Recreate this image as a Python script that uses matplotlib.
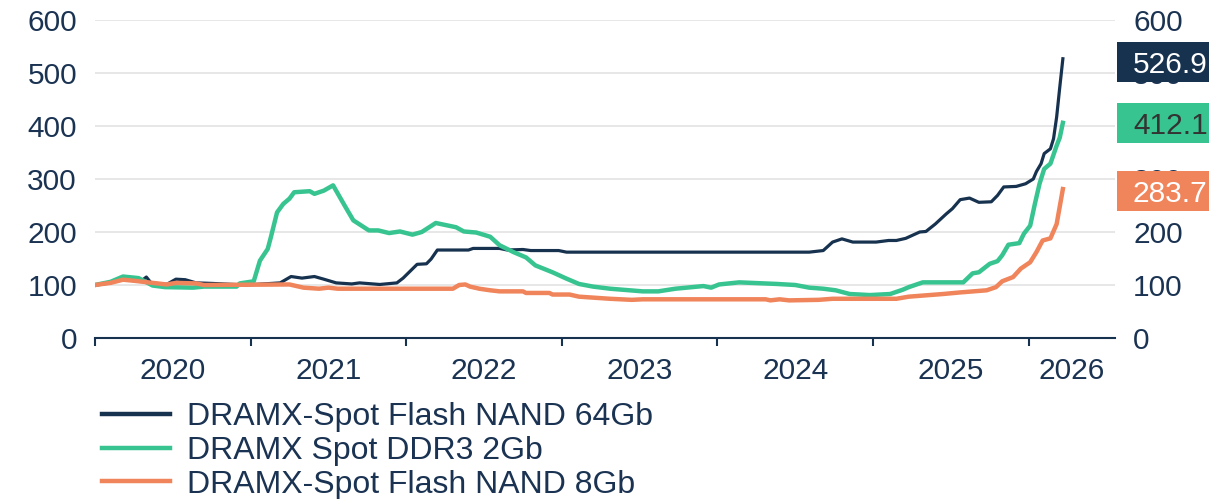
import matplotlib
matplotlib.use("Agg")
import matplotlib.pyplot as plt
import matplotlib.transforms as mtransforms
from matplotlib.patches import Rectangle

plt.rcParams['font.family'] = ['Liberation Sans', 'DejaVu Sans']

# series (x in fractional years, values indexed)
nand64_t = [2020.0, 2020.10, 2020.18, 2020.25, 2020.30, 2020.33, 2020.36, 2020.46, 2020.52, 2020.58,
            2020.65, 2020.75, 2020.97, 2021.19, 2021.26, 2021.33, 2021.41, 2021.47, 2021.55, 2021.65,
            2021.70, 2021.83, 2021.94, 2021.98, 2022.07, 2022.13, 2022.16, 2022.20, 2022.40, 2022.43,
            2022.60, 2022.65, 2022.75, 2022.80, 2022.98, 2023.03, 2024.59, 2024.68, 2024.74, 2024.80,
            2024.87, 2025.02, 2025.10, 2025.15, 2025.21, 2025.30, 2025.34, 2025.40, 2025.47, 2025.51,
            2025.56, 2025.62, 2025.68, 2025.76, 2025.80, 2025.84, 2025.92, 2025.98, 2026.03, 2026.05,
            2026.08, 2026.10, 2026.14, 2026.16, 2026.18, 2026.20, 2026.22]
nand64_v = [100, 104, 112, 108, 108, 115, 104, 101, 111, 110,
            104, 103, 100, 104, 116, 113, 116, 111, 104, 102,
            104, 101, 104, 113, 139, 140, 149, 166, 166, 169,
            169, 166, 167, 165, 165, 162, 162, 165, 181, 187,
            181, 181, 184, 184, 188, 200, 201, 215, 234, 244,
            261, 264, 256, 257, 269, 285, 286, 291, 300, 314,
            329, 348, 357, 376, 417, 473, 526.9]

ddr3_t = [2020.0, 2020.10, 2020.18, 2020.28, 2020.37, 2020.45, 2020.63, 2020.70, 2020.91, 2020.93,
          2021.02, 2021.06, 2021.11, 2021.13, 2021.17, 2021.21, 2021.25, 2021.28, 2021.38, 2021.41,
          2021.47, 2021.53, 2021.61, 2021.66, 2021.76, 2021.82, 2021.89, 2021.96, 2022.04, 2022.10,
          2022.19, 2022.32, 2022.37, 2022.45, 2022.54, 2022.60, 2022.69, 2022.77, 2022.83, 2022.94,
          2023.03, 2023.11, 2023.20, 2023.31, 2023.52, 2023.62, 2023.73, 2023.91, 2023.96, 2024.01,
          2024.14, 2024.38, 2024.50, 2024.59, 2024.68, 2024.76, 2024.85, 2024.98, 2025.11, 2025.19,
          2025.23, 2025.32, 2025.58, 2025.64, 2025.68, 2025.75, 2025.80, 2025.83, 2025.87, 2025.94,
          2025.97, 2026.01, 2026.04, 2026.07, 2026.10, 2026.14, 2026.18, 2026.20, 2026.22]
ddr3_v = [100, 106, 116, 113, 99, 96, 95, 97, 97, 103,
          107, 146, 168, 190, 237, 253, 263, 275, 277, 272,
          278, 288, 247, 222, 203, 203, 198, 201, 195, 200,
          217, 209, 201, 199, 191, 175, 162, 152, 137, 124,
          112, 102, 97, 93, 88, 88, 93, 98, 95, 101,
          105, 102, 100, 95, 93, 90, 83, 81, 83, 91,
          96, 105, 105, 122, 124, 140, 145, 156, 176, 179,
          197, 212, 253, 291, 319, 329, 363, 378, 406]

nand8_t = [2020.0, 2020.10, 2020.18, 2020.25, 2020.46, 2020.52, 2020.65, 2020.70, 2021.25, 2021.34,
           2021.44, 2021.50, 2021.56, 2022.30, 2022.34, 2022.38, 2022.41, 2022.47, 2022.54, 2022.60,
           2022.75, 2022.77, 2022.92, 2022.94, 2023.05, 2023.11, 2023.31, 2023.45, 2023.52, 2024.31,
           2024.34, 2024.40, 2024.46, 2024.65, 2024.74, 2025.15, 2025.23, 2025.45, 2025.56, 2025.73,
           2025.79, 2025.83, 2025.90, 2025.95, 2026.01, 2026.05, 2026.09, 2026.14, 2026.18, 2026.22]
nand8_v = [100, 104, 110, 108, 101, 104, 103, 100, 101, 95,
           93, 95, 93, 93, 100, 101, 97, 93, 90, 88,
           88, 85, 85, 82, 82, 78, 74, 72, 73, 73,
           71, 73, 71, 72, 74, 74, 78, 83, 86, 90,
           96, 107, 115, 131, 143, 162, 184, 188, 215, 281]

names = ['DRAMX-Spot Flash NAND 64Gb', 'DRAMX Spot DDR3 2Gb', 'DRAMX-Spot Flash NAND 8Gb']
last_labels = [526.9, 412.1, 283.7]
years = [2020, 2021, 2022, 2023, 2024, 2025, 2026]

navy = '#17324f'
green = '#38c490'
orange = '#f0845b'
txt = '#1b3352'
fs = 21.5

fig = plt.figure(figsize=(12.19, 4.99), dpi=100)
ax = fig.add_axes([95 / 1219, 1 - 338 / 499, 1020 / 1219, 318 / 499])

ax.plot(nand64_t, nand64_v, color=navy, lw=2.3, label=names[0], solid_joinstyle='round')
ax.plot(ddr3_t, ddr3_v, color=green, lw=3.2, label=names[1], solid_joinstyle='round')
ax.plot(nand8_t, nand8_v, color=orange, lw=3.2, label=names[2], solid_joinstyle='round')

xmax = 2026.555
ax.set_xlim(2020.0, xmax)
ax.set_ylim(0, 600)
ax.set_yticks(range(0, 601, 100))
ax.grid(axis='y', color='#e3e3e3', lw=1.2)
ax.set_axisbelow(True)
for s in ['top', 'left', 'right']:
    ax.spines[s].set_visible(False)
ax.spines['bottom'].set_color(navy)
ax.spines['bottom'].set_linewidth(1.5)
ax.tick_params(axis='y', length=0, pad=13, labelsize=fs, labelcolor=txt)

# year boundaries as ticks, labels centred in each year
ax.set_xticks(years)
ax.set_xticklabels([])
ax.tick_params(axis='x', which='major', length=6, width=1.5, color=navy, direction='out')
mids = [y + 0.5 for y in years[:-1]] + [(years[-1] + xmax) / 2]
ax.set_xticks(mids, minor=True)
ax.set_xticklabels([str(y) for y in years], minor=True)
ax.tick_params(axis='x', which='minor', length=0, pad=14, labelsize=fs, labelcolor=txt)

ax2 = ax.twinx()
ax2.set_ylim(0, 600)
ax2.set_yticks(range(0, 601, 100))
for s in ax2.spines.values():
    s.set_visible(False)
ax2.tick_params(axis='y', length=0, pad=13, labelsize=fs, labelcolor=txt)

# end-value boxes
trans = mtransforms.blended_transform_factory(ax.transAxes, ax.transData)
box_h = 40 / 318 * 600  # box height in data units
styles = [(navy, 'white'), (green, '#333333'), (orange, 'white')]
for val, (bg, fc) in zip(last_labels, styles):
    yc = val - 6
    ax2.add_patch(Rectangle((1.002, yc - box_h / 2), 0.09, box_h, transform=trans,
                            fc=bg, ec='none', clip_on=False, zorder=5))
    ax2.text(1.0176, yc, f'{val:.1f}', transform=trans, ha='left', va='center_baseline',
             fontsize=fs, color=fc, zorder=6, clip_on=False)

leg = fig.legend(loc='upper left', bbox_to_anchor=(0.073, 0.22), frameon=False, fontsize=23,
                 handlelength=2.13, handletextpad=0.53, labelspacing=0.12, borderaxespad=0,
                 labelcolor=txt)
for h in leg.get_lines():
    h.set_linewidth(3.2)

fig.savefig('out.png', dpi=100)
